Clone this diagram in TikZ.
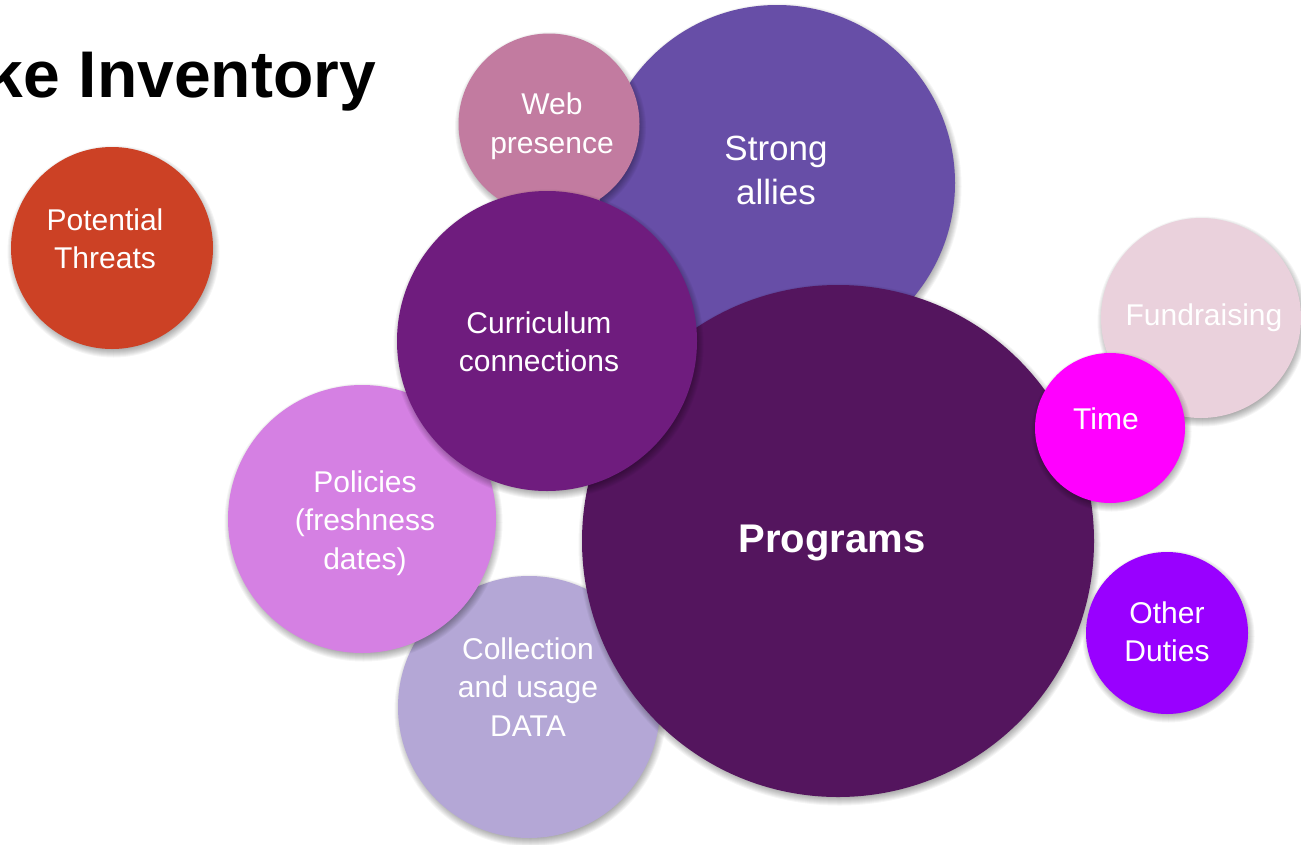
\documentclass[tikz,border=0pt]{standalone}
\usepackage{fontspec}
\setmainfont{Liberation Sans}
\definecolor{cThreat}{HTML}{CC4125}
\definecolor{cWeb}{HTML}{C27BA0}
\definecolor{cStrong}{HTML}{674EA7}
\definecolor{cCurr}{HTML}{6F1C7E}
\definecolor{cProg}{HTML}{54155E}
\definecolor{cFund}{HTML}{EAD1DC}
\definecolor{cTime}{HTML}{FF00FF}
\definecolor{cPol}{HTML}{D580E3}
\definecolor{cColl}{HTML}{B4A7D6}
\definecolor{cOther}{HTML}{9900FF}
\tikzset{
  bubble/.style={circle, inner sep=0pt, draw=none, minimum size=#1},
  btext/.style={text=white, align=center, inner sep=0pt, font=\fontsize{30}{38.5}\selectfont},
  shadowlayer/.style={fill=black, opacity=0.04},
}
\newcommand\softshadow[3]{%
  \foreach \k in {0,...,9}{\fill[shadowlayer] (#1+1.5,#2+3.5) circle[radius={#3+5-\k}];}}
\begin{document}
\begin{tikzpicture}[x=1pt,y=-1pt]
\useasboundingbox (0,0) rectangle (1301,844);
\clip (0,0) rectangle (1301,844);
\fill[white] (0,0) rectangle (1301,844);
% title
\node[anchor=base east, inner sep=0pt, font=\fontsize{66}{78}\selectfont\bfseries] (title) at (376,97) {ke Inventory};
% bubbles (back to front)
\softshadow{777}{183}{178}
\node[bubble=356pt, fill=cStrong] (strong) at (777,183) {};
\softshadow{549}{124}{90.5}
\node[bubble=181pt, fill=cWeb] (web) at (549,124) {};
\softshadow{529}{707}{131}
\node[bubble=262pt, fill=cColl] (coll) at (529,707) {};
\softshadow{362}{519}{134}
\node[bubble=268pt, fill=cPol] (pol) at (362,519) {};
\softshadow{838}{541}{256}
\node[bubble=512pt, fill=cProg] (prog) at (838,541) {};
\softshadow{547}{341}{150}
\node[bubble=300pt, fill=cCurr] (curr) at (547,341) {};
\softshadow{1201}{318}{100}
\node[bubble=200pt, fill=cFund] (fund) at (1201,318) {};
\softshadow{1110}{428}{75}
\node[bubble=150pt, fill=cTime] (time) at (1110,428) {};
\softshadow{1167}{633}{81}
\node[bubble=162pt, fill=cOther] (other) at (1167,633) {};
\softshadow{112}{248}{101}
\node[bubble=202pt, fill=cThreat] (threat) at (112,248) {};
% texts
\node[btext] (threat-t) at (105,239) {Potential\\Threats};
\node[btext] (web-t) at (552,126) {Web\\presence};
\node[btext, font=\fontsize{35}{44}\selectfont] (strong-t) at (776,170) {Strong\\allies};
\node[btext] (curr-t) at (539,342) {Curriculum\\connections};
\node[btext, font=\fontsize{40}{48}\selectfont\bfseries] (prog-t) at (832,543) {Programs};
\node[btext] (fund-t) at (1204,318) {Fundraising};
\node[btext] (time-t) at (1106,419) {Time};
\node[btext] (pol-t) at (365,523) {Policies\\(freshness\\dates)};
\node[btext] (coll-t) at (528,687) {Collection\\and usage\\DATA};
\node[btext] (other-t) at (1167,632) {Other\\Duties};
\end{tikzpicture}
\end{document}
